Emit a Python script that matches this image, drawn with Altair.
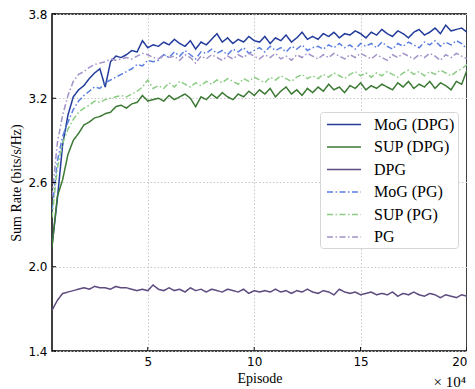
import altair as alt
import pandas as pd

episodes = [0.5 + 0.25 * i for i in range(79)]  # ×10^4

mog_dpg = [2.15, 2.48, 2.87, 3.08, 3.21, 3.26, 3.29, 3.34, 3.38, 3.41,
           3.28, 3.46, 3.50, 3.49, 3.51, 3.54, 3.53, 3.61, 3.56, 3.58,
           3.57, 3.60, 3.58, 3.62, 3.59, 3.57, 3.61, 3.55, 3.60, 3.58,
           3.62, 3.66, 3.60, 3.63, 3.59, 3.62, 3.60, 3.64, 3.61, 3.60,
           3.64, 3.59, 3.63, 3.61, 3.65, 3.60, 3.63, 3.67, 3.62, 3.64,
           3.62, 3.66, 3.64, 3.67, 3.63, 3.66, 3.65, 3.68, 3.66, 3.63,
           3.67, 3.65, 3.69, 3.66, 3.64, 3.68, 3.66, 3.63, 3.67, 3.69,
           3.65, 3.67, 3.70, 3.66, 3.72, 3.68, 3.69, 3.70, 3.67]
sup_dpg = [2.14, 2.50, 2.62, 2.80, 2.90, 2.95, 3.01, 3.03, 3.06, 3.07,
           3.09, 3.10, 3.14, 3.15, 3.13, 3.16, 3.17, 3.22, 3.18, 3.19,
           3.20, 3.18, 3.22, 3.19, 3.21, 3.23, 3.20, 3.14, 3.21, 3.19,
           3.23, 3.20, 3.24, 3.21, 3.19, 3.23, 3.21, 3.25, 3.22, 3.26,
           3.23, 3.27, 3.21, 3.25, 3.28, 3.23, 3.26, 3.22, 3.27, 3.24,
           3.28, 3.25, 3.30, 3.26, 3.28, 3.24, 3.29, 3.27, 3.31, 3.26,
           3.29, 3.27, 3.30, 3.28, 3.26, 3.31, 3.28, 3.32, 3.27, 3.30,
           3.28, 3.32, 3.27, 3.31, 3.29, 3.26, 3.32, 3.30, 3.40]
dpg = [1.69, 1.76, 1.81, 1.82, 1.83, 1.84, 1.85, 1.84, 1.86, 1.85,
       1.85, 1.84, 1.86, 1.85, 1.85, 1.84, 1.83, 1.84, 1.83, 1.87,
       1.84, 1.83, 1.85, 1.83, 1.84, 1.82, 1.85, 1.83, 1.84, 1.82,
       1.84, 1.83, 1.82, 1.84, 1.83, 1.82, 1.84, 1.81, 1.83, 1.82,
       1.83, 1.82, 1.84, 1.82, 1.83, 1.81, 1.83, 1.82, 1.84, 1.82,
       1.81, 1.83, 1.82, 1.80, 1.84, 1.82, 1.81, 1.82, 1.80, 1.81,
       1.82, 1.80, 1.81, 1.80, 1.82, 1.79, 1.81, 1.80, 1.82, 1.80,
       1.79, 1.81, 1.80, 1.78, 1.80, 1.79, 1.78, 1.80, 1.79]
mog_pg = [2.40, 2.75, 2.93, 3.03, 3.12, 3.18, 3.22, 3.25, 3.28, 3.27,
          3.31, 3.33, 3.35, 3.37, 3.39, 3.41, 3.44, 3.43, 3.47, 3.46,
          3.47, 3.51, 3.49, 3.53, 3.50, 3.54, 3.51, 3.48, 3.53, 3.52,
          3.55, 3.52, 3.54, 3.51, 3.55, 3.53, 3.56, 3.52, 3.54, 3.56,
          3.53, 3.57, 3.54, 3.56, 3.53, 3.57, 3.55, 3.58, 3.54, 3.56,
          3.57, 3.55, 3.58, 3.56, 3.59, 3.56, 3.58, 3.55, 3.59, 3.57,
          3.59, 3.56, 3.60, 3.57, 3.55, 3.59, 3.57, 3.60, 3.58, 3.56,
          3.60, 3.58, 3.61, 3.57, 3.60, 3.58, 3.61, 3.59, 3.55]
sup_pg = [2.35, 2.70, 2.88, 2.98, 3.05, 3.10, 3.13, 3.15, 3.18, 3.17,
          3.19, 3.20, 3.21, 3.22, 3.21, 3.23, 3.25, 3.28, 3.33, 3.27,
          3.29, 3.27, 3.31, 3.28, 3.32, 3.30, 3.28, 3.31, 3.29, 3.32,
          3.30, 3.33, 3.31, 3.34, 3.32, 3.30, 3.34, 3.32, 3.35, 3.33,
          3.31, 3.35, 3.33, 3.36, 3.34, 3.32, 3.35, 3.37, 3.34, 3.36,
          3.34, 3.37, 3.35, 3.38, 3.36, 3.34, 3.37, 3.39, 3.36, 3.38,
          3.35, 3.38, 3.36, 3.39, 3.37, 3.35, 3.38, 3.40, 3.37, 3.39,
          3.36, 3.39, 3.37, 3.40, 3.38, 3.36, 3.39, 3.41, 3.44]
pg = [2.50, 2.88, 3.08, 3.22, 3.32, 3.37, 3.39, 3.42, 3.44, 3.45,
      3.46, 3.48, 3.47, 3.48, 3.49, 3.48, 3.50, 3.52, 3.51, 3.49,
      3.48, 3.51, 3.49, 3.50, 3.47, 3.51, 3.49, 3.45, 3.50, 3.48,
      3.51, 3.49, 3.47, 3.50, 3.48, 3.51, 3.49, 3.52, 3.50, 3.48,
      3.51, 3.49, 3.52, 3.48, 3.50, 3.47, 3.51, 3.49, 3.52, 3.50,
      3.48, 3.51, 3.49, 3.52, 3.50, 3.48, 3.51, 3.49, 3.52, 3.50,
      3.48, 3.51, 3.49, 3.47, 3.51, 3.49, 3.52, 3.50, 3.48, 3.51,
      3.49, 3.52, 3.50, 3.47, 3.51, 3.49, 3.52, 3.50, 3.48]

series_names = ["MoG (DPG)", "SUP (DPG)", "DPG", "MoG (PG)", "SUP (PG)", "PG"]
series_values = [mog_dpg, sup_dpg, dpg, mog_pg, sup_pg, pg]
series_colors = ["#233c9b", "#3c7a34", "#5d4a7e", "#5b7fe0", "#8ccc84", "#a292c8"]
solid = [1, 0]
dashdot = [6, 2.5, 1.5, 2.5]
series_dash = [solid, solid, solid, dashdot, dashdot, dashdot]

x_ticks = [5, 10, 15, 20]
y_ticks = [1.4, 2.0, 2.6, 3.2, 3.8]

rows = []
for name, vals in zip(series_names, series_values):
    for e, v in zip(episodes, vals):
        rows.append({"Episode": e, "Rate": v, "Series": name})
df = pd.DataFrame(rows)

W, H = 415, 337
serif = "Liberation Serif"
sans = "DejaVu Sans"

xscale = alt.Scale(domain=[0.5, 20], nice=False, zero=False)
yscale = alt.Scale(domain=[1.4, 3.8], nice=False, zero=False)

leg = dict(title=None, orient="none", legendX=268, legendY=98,
           symbolType="M-2,0H2", symbolSize=289, symbolStrokeWidth=1.5,
           symbolOffset=11.5, labelOffset=20.5, padding=3, rowPadding=4.5)

lines = alt.Chart(df).mark_line(strokeWidth=1.5, clip=True).encode(
    x=alt.X("Episode:Q", scale=xscale,
            axis=alt.Axis(values=x_ticks, title="Episode", format="d")),
    y=alt.Y("Rate:Q", scale=yscale,
            axis=alt.Axis(values=y_ticks, title="Sum Rate (bits/s/Hz)", format=".1f")),
    color=alt.Color("Series:N",
                    scale=alt.Scale(domain=series_names, range=series_colors),
                    legend=alt.Legend(**leg)),
    strokeDash=alt.StrokeDash("Series:N",
                              scale=alt.Scale(domain=series_names, range=series_dash),
                              legend=alt.Legend(**leg)),
    detail="Series:N",
)

xt = alt.Chart(pd.DataFrame({"t": x_ticks})).mark_rule(color="black", strokeWidth=1).encode(
    x=alt.X("t:Q", scale=xscale), y=alt.value(H), y2=alt.value(H - 4))
yt = alt.Chart(pd.DataFrame({"t": y_ticks})).mark_rule(color="black", strokeWidth=1).encode(
    y=alt.Y("t:Q", scale=yscale), x=alt.value(0), x2=alt.value(4))

mult = alt.Chart(pd.DataFrame({"s": ["× 10⁴"]})).mark_text(
    font=serif, fontSize=15, align="right", baseline="middle", color="black"
).encode(text="s:N", x=alt.value(W - 1), y=alt.value(368))

chart = alt.layer(lines, xt, yt, mult).properties(
    width=W, height=H, autosize="none",
    padding={"left": 44, "top": 6, "right": 0, "bottom": 38},
).configure_view(stroke="black", strokeWidth=1.5).configure_axis(
    grid=True, gridColor="#c8c8c8", gridDash=[1.5, 2], gridWidth=1,
    domain=False, ticks=False,
    labelFont=sans, labelFontSize=12, labelColor="black", labelPadding=5,
    titleFont=serif, titleFontSize=14, titleFontWeight="normal", titleColor="black",
).configure_axisX(titlePadding=4).configure_axisY(titlePadding=4).configure_legend(
    labelFont=serif, labelFontSize=16, labelColor="black",
    strokeColor="#d6d6d6", fillColor="white", cornerRadius=3,
)

chart.save("out.html", embed_options={"renderer": "svg", "actions": False})
